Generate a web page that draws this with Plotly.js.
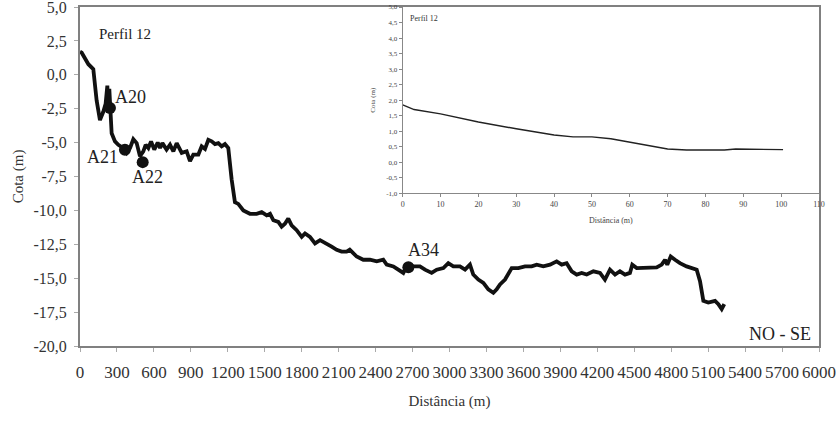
<!DOCTYPE html>
<html>
<head>
<meta charset="utf-8">
<script src="https://cdn.plot.ly/plotly-3.0.1.min.js"></script>
<style>html,body{margin:0;padding:0;background:#fff;}#chart{width:837px;height:422px;}</style>
</head>
<body>
<div id="chart"></div>
<script>
// Main profile: distance (m) and elevation (m)
const distance = [0,14,68,95,108,135,162,189,208,222,230,238,249,257,284,311,352,379,406,433,460,487,514,533,555,577,603,631,650,669,703,731,758,785,826,866,893,920,961,988,1015,1042,1069,1096,1123,1150,1177,1204,1231,1245,1258,1285,1326,1380,1434,1475,1516,1543,1570,1610,1637,1664,1691,1718,1759,1800,1827,1867,1908,1949,1989,2043,2084,2124,2165,2190,2206,2246,2300,2354,2409,2462,2490,2544,2584,2625,2652,2679,2706,2760,2801,2855,2896,2950,2990,3031,3085,3126,3166,3193,3234,3275,3315,3356,3383,3410,3451,3478,3505,3559,3613,3667,3708,3762,3816,3870,3911,3951,3992,4033,4073,4114,4168,4222,4262,4303,4344,4384,4425,4465,4484,4520,4574,4628,4682,4723,4750,4768,4796,4831,4871,4925,4966,5007,5034,5061,5101,5156,5183,5210,5231];
const elevation = [1.7,1.63,0.78,0.54,0.42,-1.89,-3.34,-2.73,-2.13,-0.8,-2.61,-1.04,-2.61,-4.31,-4.91,-5.16,-5.4,-5.76,-5.4,-4.75,-5.04,-6.0,-5.64,-5.16,-5.4,-4.91,-5.52,-4.99,-5.4,-5.04,-5.52,-5.16,-5.64,-5.04,-5.76,-5.64,-6.37,-5.88,-5.88,-5.28,-5.47,-4.8,-4.91,-5.11,-5.04,-5.28,-5.11,-5.4,-7.7,-8.91,-9.4,-9.52,-10.0,-10.25,-10.25,-10.13,-10.37,-10.25,-10.73,-10.85,-11.2,-10.98,-10.6,-11.1,-11.46,-11.95,-11.7,-11.95,-12.43,-12.19,-12.43,-12.67,-12.91,-13.04,-13.04,-12.9,-13.04,-13.4,-13.64,-13.64,-13.76,-13.64,-14.0,-14.13,-14.37,-14.61,-14.13,-14.0,-14.13,-14.13,-14.37,-14.61,-14.37,-14.25,-13.89,-14.13,-14.13,-14.37,-14.0,-14.73,-15.1,-15.34,-15.82,-16.07,-15.82,-15.46,-15.1,-14.61,-14.25,-14.25,-14.13,-14.13,-14.0,-14.13,-14.0,-13.76,-14.0,-13.89,-14.49,-14.73,-14.61,-14.73,-14.49,-14.61,-15.1,-14.37,-14.73,-14.49,-14.73,-14.61,-14.0,-14.25,-14.25,-14.25,-14.2,-14.0,-13.64,-14.0,-13.4,-13.64,-13.89,-14.13,-14.25,-14.37,-15.22,-16.67,-16.8,-16.67,-16.91,-17.28,-16.91];

// Sample points
const sampleNames = ["A20","A21","A22","A34"];
const sampleDist = [243,365,509,2666];
const sampleElev = [-2.44,-5.52,-6.44,-14.2];

// Inset profile (Perfil 12, beach)
const insetDist = [0,3,10,20,30,40,45,50,55,60,65,70,75,80,85,88,95,100.5];
const insetElev = [1.85,1.7,1.56,1.3,1.08,0.88,0.82,0.82,0.76,0.65,0.54,0.43,0.4,0.39,0.4,0.43,0.42,0.41];

// Tick labels
const xTickVals = [0,300,600,900,1200,1500,1800,2100,2400,2700,3000,3300,3600,3900,4200,4500,4800,5100,5400,5700,6000];
const xTickText = xTickVals.map(String);
const yTickVals = [5,2.5,0,-2.5,-5,-7.5,-10,-12.5,-15,-17.5,-20];
const yTickText = ["5,0","2,5","0,0","-2,5","-5,0","-7,5","-10,0","-12,5","-15,0","-17,5","-20,0"];
const insetXTickVals = [0,10,20,30,40,50,60,70,80,90,100,110];
const insetYTickVals = [5,4.5,4,3.5,3,2.5,2,1.5,1,0.5,0,-0.5,-1];
const insetYTickText = ["5,0","4,5","4,0","3,5","3,0","2,5","2,0","1,5","1,0","0,5","0,0","-0,5","-1,0"];

const serif = "Liberation Serif";

const traces = [
  {x: distance, y: elevation, type: "scatter", mode: "lines",
   line: {color: "#111", width: 3.8}, xaxis: "x", yaxis: "y", hoverinfo: "skip"},
  {x: sampleDist, y: sampleElev, type: "scatter", mode: "markers",
   marker: {color: "#111", size: 12}, xaxis: "x", yaxis: "y", hoverinfo: "skip"},
  {x: insetDist, y: insetElev, type: "scatter", mode: "lines",
   line: {color: "#222", width: 1.4}, xaxis: "x2", yaxis: "y2", hoverinfo: "skip"}
];

const labelPos = [
  {x: 406, y: -1.62}, {x: 179, y: -6.05}, {x: 544, y: -7.51}, {x: 2785, y: -12.89}
];
const annotations = sampleNames.map((n, i) => ({
  text: n, x: labelPos[i].x, y: labelPos[i].y, xref: "x", yref: "y",
  showarrow: false, font: {family: serif, size: 18, color: "#222"}
}));
annotations.push({text: "Perfil 12", x: 365, y: 3.04, xref: "x", yref: "y", showarrow: false,
  font: {family: serif, size: 15, color: "#222"}});
annotations.push({text: "NO - SE", x: 5683, y: -19.15, xref: "x", yref: "y", showarrow: false,
  font: {family: serif, size: 18, color: "#222"}});
annotations.push({text: "Perfil 12", x: 1.4, y: 4.64, xref: "x2", yref: "y2", showarrow: false,
  xanchor: "left", font: {family: serif, size: 8, color: "#333"}});

const layout = {
  width: 837, height: 422,
  margin: {l: 80, r: 18, t: 7, b: 76},
  paper_bgcolor: "#fff", plot_bgcolor: "#fff",
  showlegend: false,
  font: {family: serif, color: "#333"},
  xaxis: {
    domain: [0, 1], range: [0, 6000], tickvals: xTickVals, ticktext: xTickText,
    showgrid: false, zeroline: false, showline: true, linecolor: "#808080", linewidth: 2,
    mirror: true, ticks: "outside", ticklen: 4, tickcolor: "#aaa",
    ticklabelstandoff: 6,
    tickfont: {family: serif, size: 17, color: "#333"},
    title: {text: "Distância (m)", font: {family: serif, size: 15, color: "#333"}, standoff: 14}
  },
  yaxis: {
    domain: [0, 1], range: [-20, 5], tickvals: yTickVals, ticktext: yTickText,
    showgrid: false, zeroline: false, showline: true, linecolor: "#808080", linewidth: 2,
    mirror: true, ticks: "outside", ticklen: 4, tickcolor: "#aaa",
    ticklabelstandoff: 4, ticklabeloverflow: "allow",
    tickfont: {family: serif, size: 16, color: "#333"},
    title: {text: "Cota (m)", font: {family: serif, size: 15, color: "#333"}, standoff: 6}
  },
  xaxis2: {
    domain: [0.4367, 1], anchor: "y2", range: [0, 110], tickvals: insetXTickVals,
    showgrid: false, zeroline: false, showline: true, linecolor: "#888", linewidth: 1,
    ticks: "outside", ticklen: 3, tickcolor: "#888",
    tickfont: {family: serif, size: 8, color: "#444"},
    title: {text: "Distância (m)", font: {family: serif, size: 8, color: "#444"}, standoff: 9}
  },
  yaxis2: {
    domain: [0.45, 1], anchor: "x2", range: [-1, 5], tickvals: insetYTickVals, ticktext: insetYTickText,
    showgrid: false, zeroline: false, showline: true, linecolor: "#888", linewidth: 1,
    ticks: "outside", ticklen: 3, tickcolor: "#888",
    tickfont: {family: serif, size: 7, color: "#444"},
    title: {text: "Cota (m)", font: {family: serif, size: 7, color: "#444"}, standoff: 9}
  },
  annotations: annotations
};

Plotly.newPlot("chart", traces, layout, {staticPlot: true, displayModeBar: false});
</script>
</body>
</html>
